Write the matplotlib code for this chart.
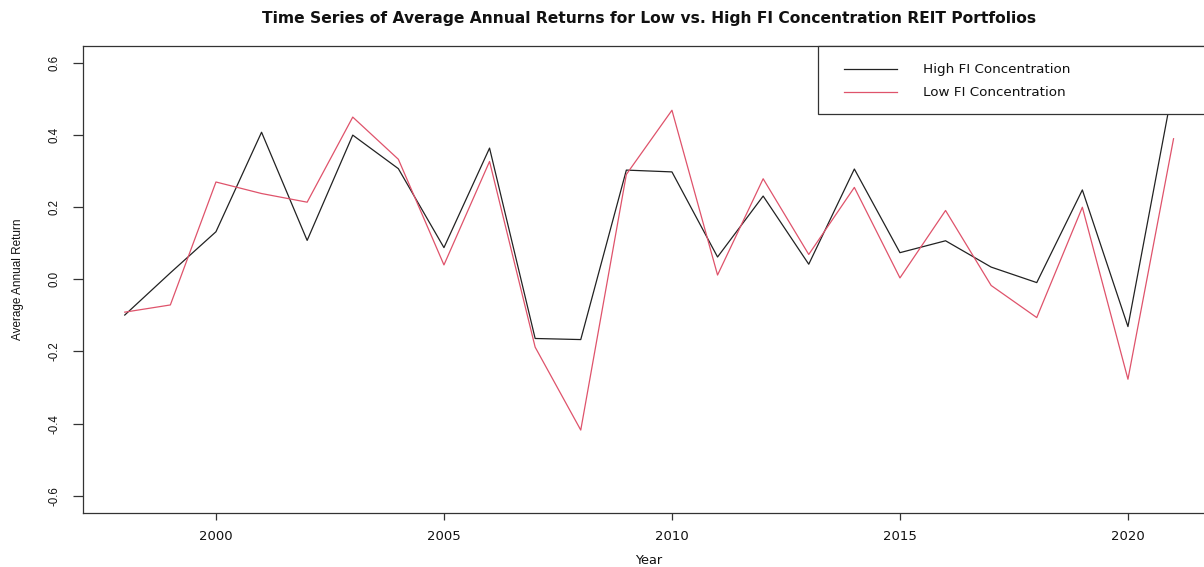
import matplotlib
matplotlib.use("Agg")
import matplotlib.pyplot as plt
from matplotlib.patches import Rectangle
from matplotlib.lines import Line2D

plt.rcParams['font.family'] = ['DejaVu Sans']
narrow = ['Liberation Sans', 'DejaVu Sans']

years = list(range(1998, 2022))
high_fi = [-0.099, 0.018, 0.132, 0.408, 0.108, 0.400, 0.307, 0.088,
           0.364, -0.164, -0.167, 0.303, 0.298, 0.062, 0.231, 0.042,
           0.306, 0.074, 0.107, 0.034, -0.009, 0.248, -0.131, 0.542]
low_fi = [-0.091, -0.071, 0.270, 0.238, 0.214, 0.450, 0.333, 0.040,
          0.327, -0.188, -0.418, 0.291, 0.469, 0.012, 0.279, 0.069,
          0.255, 0.004, 0.191, -0.017, -0.106, 0.200, -0.277, 0.390]
series_names = ["High FI Concentration", "Low FI Concentration"]
series_colors = ["#222222", "#DF536B"]
x_ticks = [2000, 2005, 2010, 2015, 2020]
y_ticks = [-0.6, -0.4, -0.2, 0.0, 0.2, 0.4, 0.6]

W, H = 1204, 567
fig = plt.figure(figsize=(W / 100, H / 100), dpi=100)
# plot region runs a little past the right edge of the canvas
ax = fig.add_axes([82.8 / W, 54 / H, 1132.7 / W, 467.3 / H])

ax.plot(years, high_fi, color=series_colors[0], lw=0.9)
ax.plot(years, low_fi, color=series_colors[1], lw=0.9)

x_pad = 0.04 * (years[-1] - years[0])
ax.set_xlim(years[0] - x_pad, years[-1] + x_pad)
ax.set_ylim(-0.648, 0.648)

ax.set_xticks(x_ticks)
ax.set_xticklabels([str(t) for t in x_ticks])
ax.set_yticks(y_ticks)
ax.set_yticklabels([f"{t:.1f}" for t in y_ticks], rotation=90, va='center',
                   family=narrow)

frame_col = "#333333"
for s in ax.spines.values():
    s.set_color(frame_col)
    s.set_linewidth(0.9)
ax.tick_params(axis='x', length=5, width=0.9, color=frame_col, pad=7,
               labelsize=9.5, labelcolor="#111111")
ax.tick_params(axis='y', length=7.2, width=0.9, color=frame_col, pad=9,
               labelsize=8.3, labelcolor="#111111")

# legend box with opaque background in the top-right corner
leg_box = Rectangle((0.6488, 0.8528), 0.3512, 0.1472, transform=ax.transAxes,
                    facecolor="white", edgecolor=frame_col, lw=0.9, zorder=5,
                    clip_on=False)
ax.add_patch(leg_box)
for name, col, yy in zip(series_names, series_colors, [0.9495, 0.9003]):
    ax.add_line(Line2D([0.6720, 0.7185], [yy, yy], transform=ax.transAxes,
                       color=col, lw=0.9, zorder=6))
    ax.text(0.7417, yy, name, transform=ax.transAxes, fontsize=9.7,
            va='center', ha='left', color="#111111", zorder=6)

fig.text(649 / W, 1 - 18 / H,
         "Time Series of Average Annual Returns for Low vs. High FI Concentration REIT Portfolios",
         ha='center', va='center', fontsize=11.2, fontweight='bold', color="#111111")
fig.text(649 / W, 1 - 561 / H, "Year", ha='center', va='center',
         fontsize=9.3, color="#111111")
fig.text(18.3 / W, 1 - 279.4 / H, "Average Annual Return", ha='center',
         va='center', rotation=90, fontsize=8.5, color="#111111", family=narrow)

fig.savefig("out.png", dpi=100)
